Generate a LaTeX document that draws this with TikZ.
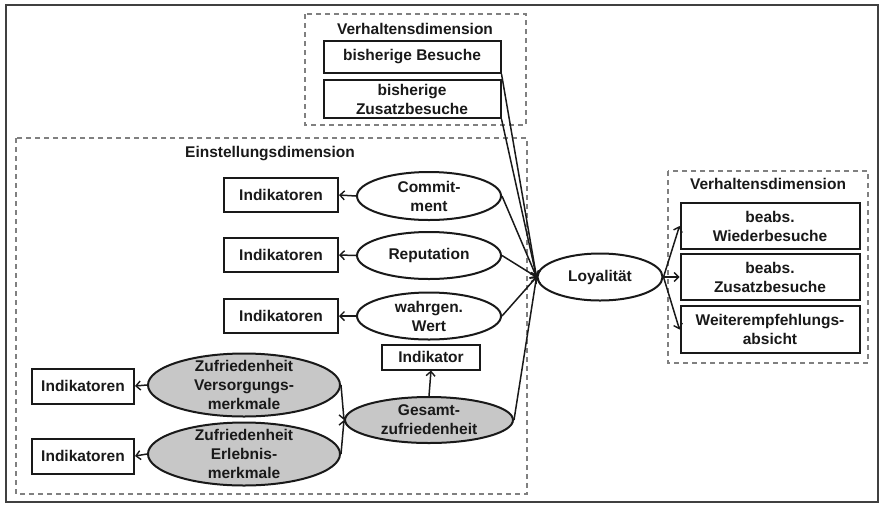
\documentclass[tikz,border=0pt]{standalone}
\usepackage{fontspec}
\setmainfont{Liberation Sans}
\usetikzlibrary{shapes.geometric,arrows.meta}
\begin{document}
\begin{tikzpicture}[x=1pt,y=-1pt,
  font=\fontsize{15.5}{19}\selectfont\bfseries,
  every node/.style={text=black!90},
  box/.style={draw=black!90, line width=2pt, inner sep=0pt, align=center, fill=white},
  ell/.style={ellipse, draw=black!90, line width=2pt, inner sep=0pt, fill=white},
  grayell/.style={ell, fill=black!22},
  lbl/.style={align=center, inner sep=0pt},
  dimbox/.style={draw=black!50, line width=1.2pt, dash pattern=on 5pt off 4pt},
  conn/.style={draw=black!90, line width=1.5pt},
  arr/.style={conn, -{Straight Barb[length=4.5pt,width=9pt,line width=1.4pt]}},
]
\useasboundingbox (0,0) rectangle (880,504);

% outer frame
\draw[line width=2.8pt, black!75] (6,5) rectangle (878,502);

% behavioural dimension (past behaviour)
\draw[dimbox] (305,14) rectangle (526,125);
\node (tTop) at (415,29) {Verhaltensdimension};
\node[box, minimum width=177pt, minimum height=32pt] (bb1) at (412,57) {bisherige Besuche};
\node[box, minimum width=177pt, minimum height=38pt] (bb2) at (412,99) {bisherige\\Zusatzbesuche};

% attitudinal dimension
\draw[dimbox] (16,138) rectangle (527,494);
\node (tEin) at (270,154) {Einstellungsdimension};

\node[box, minimum width=114pt, minimum height=34pt] (i1) at (281,195) {Indikatoren};
\node[box, minimum width=114pt, minimum height=34pt] (i2) at (281,255) {Indikatoren};
\node[box, minimum width=114pt, minimum height=34pt] (i3) at (281,316) {Indikatoren};

\node[ell, minimum width=144pt, minimum height=48pt, label={[lbl]center:{Commit-\\ment}}] (comm) at (429,196) {};
\node[ell, minimum width=144pt, minimum height=47pt, label={[lbl]center:{Reputation}}] (rep) at (429,255.5) {};
\node[ell, minimum width=144pt, minimum height=47pt, label={[lbl]center:{wahrgen.\\Wert}}] (wert) at (429,316) {};

\node[box, minimum width=98pt, minimum height=25pt] (ind) at (431,357) {Indikator};
\node[grayell, minimum width=168pt, minimum height=46pt, label={[lbl]center:{Gesamt-\\zufriedenheit}}] (ges) at (429,420) {};

\node[grayell, minimum width=192pt, minimum height=63pt, label={[lbl]center:{Zufriedenheit\\Versorgungs-\\merkmale}}] (vers) at (244,385) {};
\node[grayell, minimum width=192pt, minimum height=63pt, label={[lbl]center:{Zufriedenheit\\Erlebnis-\\merkmale}}] (erl) at (244,454) {};

\node[box, minimum width=102pt, minimum height=35pt] (li1) at (83,386) {Indikatoren};
\node[box, minimum width=102pt, minimum height=35pt] (li2) at (83,456) {Indikatoren};

% loyalty
\node[ell, minimum width=125pt, minimum height=47pt, label={[lbl]center:{Loyalität}}] (loy) at (600,277) {};

% behavioural dimension (intentions)
\draw[dimbox] (668,171) rectangle (868,363);
\node (tRight) at (768,184) {Verhaltensdimension};
\node[box, minimum width=179pt, minimum height=46pt] (r1) at (770,226) {beabs.\\Wiederbesuche};
\node[box, minimum width=179pt, minimum height=46pt] (r2) at (770,277) {beabs.\\Zusatzbesuche};
\node[box, minimum width=179pt, minimum height=47pt] (r3) at (770,329.5) {Weiterempfehlungs-\\absicht};

% indicator arrows
\draw[arr] (comm.west) -- (i1.east);
\draw[arr] (rep.west) -- (i2.east);
\draw[arr] (wert.west) -- (i3.east);
\draw[arr] (vers.west) -- (li1.east);
\draw[arr] (erl.west) -- (li2.east);
\draw[arr] (ges.north) -- (ind.south);

% satisfaction components
\draw[arr] (vers.east) -- (ges.west);
\draw[arr] (erl.east) -- (ges.west);

% into loyalty
\draw[arr] (bb1.south east) -- (loy.west);
\draw[arr] (bb2.south east) -- (loy.west);
\draw[arr] (comm.east) -- (loy.west);
\draw[arr] (rep.east) -- (loy.west);
\draw[arr] (wert.east) -- (loy.west);
\draw[arr] (ges.east) -- (loy.west);

% out of loyalty
\draw[arr] (loy.east) -- (r1.west);
\draw[arr] (loy.east) -- (r2.west);
\draw[arr] (loy.east) -- (r3.west);
\end{tikzpicture}
\end{document}
